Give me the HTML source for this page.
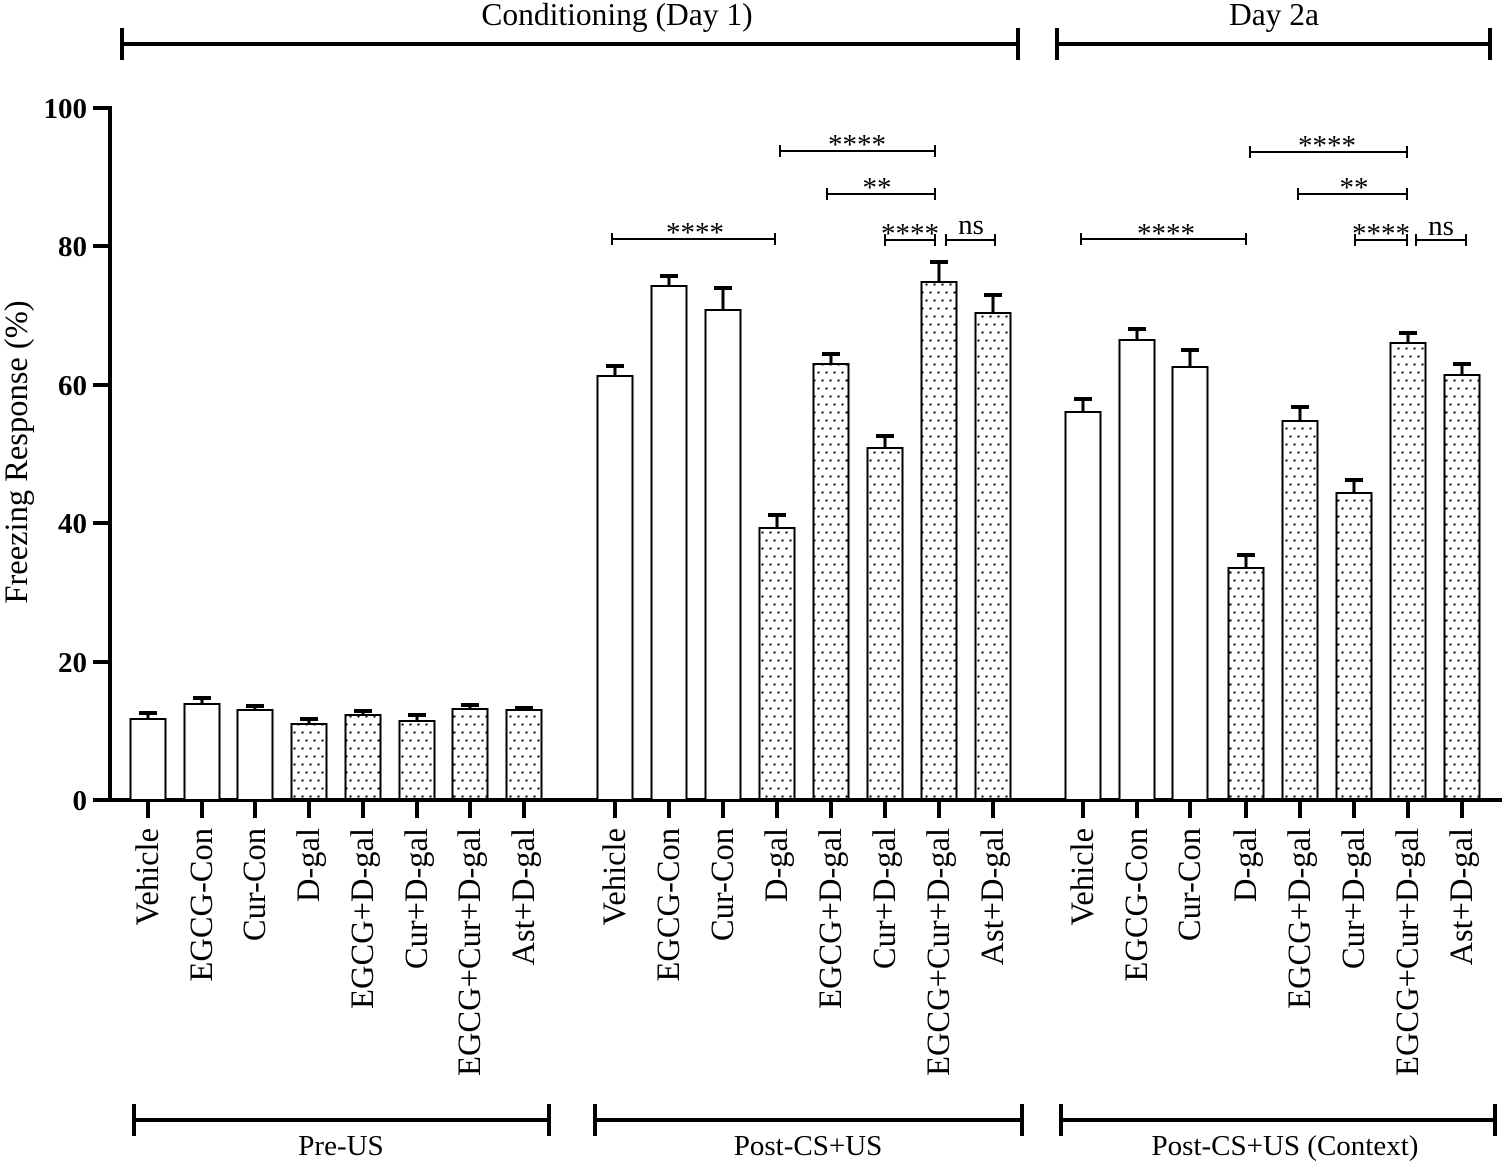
<!DOCTYPE html>
<html><head><meta charset="utf-8"><style>body{margin:0;background:#fff}svg{display:block}text{font-family:"Liberation Serif",serif;fill:#000}</style></head><body>
<svg width="1502" height="1164" viewBox="0 0 1502 1164" xmlns="http://www.w3.org/2000/svg">
<defs><pattern id="d" width="8" height="16" patternUnits="userSpaceOnUse"><rect x="1.5" y="3.5" width="2" height="2" fill="#000"/><rect x="5.5" y="11.5" width="2" height="2" fill="#000"/></pattern></defs>
<g stroke="#000" stroke-width="4">
<line x1="122" y1="44" x2="1018" y2="44"/><line x1="122" y1="28" x2="122" y2="60"/><line x1="1018" y1="28" x2="1018" y2="60"/>
<line x1="1057" y1="44" x2="1490" y2="44"/><line x1="1057" y1="28" x2="1057" y2="60"/><line x1="1490" y1="28" x2="1490" y2="60"/>
<line x1="134" y1="1120" x2="549" y2="1120"/><line x1="134" y1="1104" x2="134" y2="1136"/><line x1="549" y1="1104" x2="549" y2="1136"/>
<line x1="595" y1="1120" x2="1022" y2="1120"/><line x1="595" y1="1104" x2="595" y2="1136"/><line x1="1022" y1="1104" x2="1022" y2="1136"/>
<line x1="1061" y1="1120" x2="1495" y2="1120"/><line x1="1061" y1="1104" x2="1061" y2="1136"/><line x1="1495" y1="1104" x2="1495" y2="1136"/>
</g>
<g font-size="31.5" text-anchor="middle"><text x="617" y="25">Conditioning (Day 1)</text><text x="1274" y="25">Day 2a</text></g>
<g font-size="29" text-anchor="middle"><text x="341" y="1155">Pre-US</text><text x="808" y="1155">Post-CS+US</text><text x="1285" y="1155">Post-CS+US (Context)</text></g>
<g stroke="#000" stroke-width="4">
<line x1="110" y1="106" x2="110" y2="802"/><line x1="108" y1="800" x2="1502" y2="800"/>
<line x1="93" y1="108" x2="110" y2="108"/><line x1="93" y1="246" x2="110" y2="246"/><line x1="93" y1="385" x2="110" y2="385"/><line x1="93" y1="523" x2="110" y2="523"/><line x1="93" y1="662" x2="110" y2="662"/><line x1="93" y1="800" x2="110" y2="800"/>
</g>
<g font-size="29" font-weight="bold" text-anchor="end"><text x="87" y="118">100</text><text x="87" y="256">80</text><text x="87" y="395">60</text><text x="87" y="533">40</text><text x="87" y="672">20</text><text x="87" y="810">0</text></g>
<text font-size="32.5" text-anchor="middle" transform="translate(27,452) rotate(-90)">Freezing Response (%)</text>
<g stroke="#000" stroke-width="4">
<path d="M148 800V818M202 800V818M255 800V818M309 800V818M363 800V818M417 800V818M470 800V818M524 800V818M615 800V818M669 800V818M723 800V818M777 800V818M831 800V818M885 800V818M939 800V818M993 800V818M1083 800V818M1137 800V818M1190 800V818M1246 800V818M1300 800V818M1354 800V818M1408 800V818M1462 800V818"/>
</g>
<g stroke="#000" stroke-width="3">
<path d="M148 719V713M202 704V698M255 710V706M309 724V719M363 715V711M417 721V715M470 709V705M524 710V708M615 376V366M669 286V276M723 310V288M777 528V515M831 364V354M885 448V436M939 282V262M993 313V295M1083 412V399M1137 340V329M1190 367V350M1246 568V555M1300 421V407M1354 493V480M1408 343V333M1462 375V364"/>
</g>
<g stroke="#000" stroke-width="4">
<path d="M139 713H157M193 698H211M246 706H264M300 719H318M354 711H372M408 715H426M461 705H479M515 708H533M606 366H624M660 276H678M714 288H732M768 515H786M822 354H840M876 436H894M930 262H948M984 295H1002M1074 399H1092M1128 329H1146M1181 350H1199M1237 555H1255M1291 407H1309M1345 480H1363M1399 333H1417M1453 364H1471"/>
</g>
<g stroke="#000" stroke-width="2" fill="#fff">
<rect x="130.5" y="719" width="35" height="81"/><rect x="184.5" y="704" width="35" height="96"/><rect x="237.5" y="710" width="35" height="90"/>
<rect x="597.5" y="376" width="35" height="424"/><rect x="651.5" y="286" width="35" height="514"/><rect x="705.5" y="310" width="35" height="490"/>
<rect x="1065.5" y="412" width="35" height="388"/><rect x="1119.5" y="340" width="35" height="460"/><rect x="1172.5" y="367" width="35" height="433"/>
</g>
<g stroke="#000" stroke-width="2" fill="url(#d)">
<rect x="291.5" y="724" width="35" height="76"/><rect x="345.5" y="715" width="35" height="85"/><rect x="399.5" y="721" width="35" height="79"/><rect x="452.5" y="709" width="35" height="91"/><rect x="506.5" y="710" width="35" height="90"/>
<rect x="759.5" y="528" width="35" height="272"/><rect x="813.5" y="364" width="35" height="436"/><rect x="867.5" y="448" width="35" height="352"/><rect x="921.5" y="282" width="35" height="518"/><rect x="975.5" y="313" width="35" height="487"/>
<rect x="1228.5" y="568" width="35" height="232"/><rect x="1282.5" y="421" width="35" height="379"/><rect x="1336.5" y="493" width="35" height="307"/><rect x="1390.5" y="343" width="35" height="457"/><rect x="1444.5" y="375" width="35" height="425"/>
</g>
<g stroke="#000" stroke-width="2">
<path d="M612 239H775M612 233V245M775 233V245M780 151H935M780 145V157M935 145V157M827 194H935M827 188V200M935 188V200M885 240H935M885 234V246M935 234V246M946 240H995M946 234V246M995 234V246"/>
<path d="M1081 239H1246M1081 233V245M1246 233V245M1250 152H1407M1250 146V158M1407 146V158M1298 194H1407M1298 188V200M1407 188V200M1355 240H1407M1355 234V246M1407 234V246M1416 240H1466M1416 234V246M1466 234V246"/>
</g>
<g font-size="29" text-anchor="middle">
<text x="695" y="242">****</text><text x="857" y="154">****</text><text x="877" y="197">**</text><text x="910" y="243">****</text><text x="971" y="234">ns</text>
<text x="1166" y="243">****</text><text x="1327" y="155">****</text><text x="1354" y="197">**</text><text x="1381" y="243">****</text><text x="1441" y="235">ns</text>
</g>
<g font-size="32.5" text-anchor="end">
<text transform="translate(158,828) rotate(-90)">Vehicle</text><text transform="translate(212,828) rotate(-90)">EGCG-Con</text><text transform="translate(265,828) rotate(-90)">Cur-Con</text><text transform="translate(319,828) rotate(-90)">D-gal</text><text transform="translate(373,828) rotate(-90)">EGCG+D-gal</text><text transform="translate(427,828) rotate(-90)">Cur+D-gal</text><text transform="translate(480,828) rotate(-90)">EGCG+Cur+D-gal</text><text transform="translate(534,828) rotate(-90)">Ast+D-gal</text>
<text transform="translate(625,828) rotate(-90)">Vehicle</text><text transform="translate(679,828) rotate(-90)">EGCG-Con</text><text transform="translate(733,828) rotate(-90)">Cur-Con</text><text transform="translate(787,828) rotate(-90)">D-gal</text><text transform="translate(841,828) rotate(-90)">EGCG+D-gal</text><text transform="translate(895,828) rotate(-90)">Cur+D-gal</text><text transform="translate(949,828) rotate(-90)">EGCG+Cur+D-gal</text><text transform="translate(1003,828) rotate(-90)">Ast+D-gal</text>
<text transform="translate(1093,828) rotate(-90)">Vehicle</text><text transform="translate(1147,828) rotate(-90)">EGCG-Con</text><text transform="translate(1200,828) rotate(-90)">Cur-Con</text><text transform="translate(1256,828) rotate(-90)">D-gal</text><text transform="translate(1310,828) rotate(-90)">EGCG+D-gal</text><text transform="translate(1364,828) rotate(-90)">Cur+D-gal</text><text transform="translate(1418,828) rotate(-90)">EGCG+Cur+D-gal</text><text transform="translate(1472,828) rotate(-90)">Ast+D-gal</text>
</g>
</svg>
</body></html>
